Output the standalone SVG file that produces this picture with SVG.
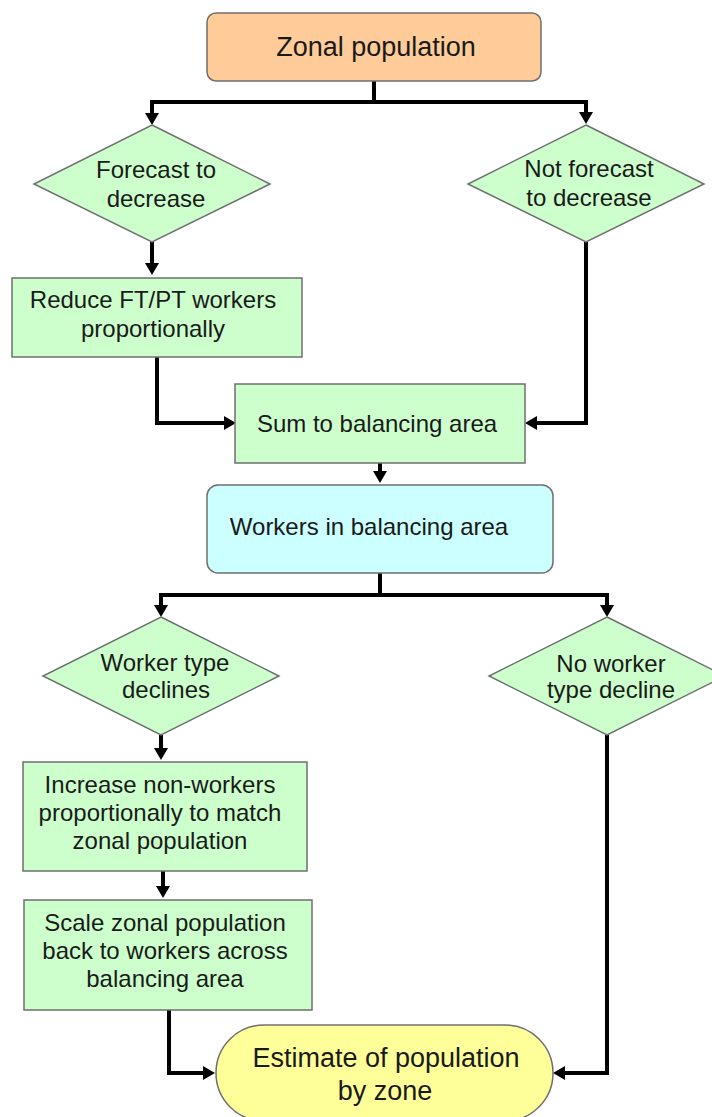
<svg xmlns="http://www.w3.org/2000/svg" width="712" height="1117" viewBox="0 0 712 1117">
  <defs>
    <marker id="arrow" markerUnits="userSpaceOnUse" markerWidth="12" markerHeight="14" refX="2" refY="7" orient="auto">
      <path d="M0,0 L12,7 L0,14 z" fill="#000"/>
    </marker>
    <style>
      .shape { stroke: #6f6f6f; stroke-width: 1.5; }
      .peach { fill: #ffcc99; }
      .green { fill: #ccffcc; }
      .cyan { fill: #ccffff; }
      .yellow { fill: #ffff99; }
      .label { font-family: "Liberation Sans", Arial, sans-serif; font-size: 24px; fill: #1a1a1a; text-anchor: middle; }
      .big { font-size: 27px; }
      .wire { fill: none; stroke: #000; stroke-width: 4; stroke-linejoin: miter; }
      .arr { marker-end: url(#arrow); }
    </style>
  </defs>
  <rect width="712" height="1117" fill="#fff"/>

  <!-- connectors -->
  <g id="connectors">
    <path class="wire" d="M374,81 V102"/>
    <path class="wire arr" d="M374,102 H152 V115"/>
    <path class="wire arr" d="M374,102 H586 V114"/>
    <path class="wire arr" d="M152,242 V265"/>
    <path class="wire arr" d="M157,357 V423 H226"/>
    <path class="wire arr" d="M586,242 V423 H535"/>
    <path class="wire arr" d="M380,463 V473"/>
    <path class="wire" d="M380,573 V595"/>
    <path class="wire arr" d="M380,595 H161 V607"/>
    <path class="wire arr" d="M380,595 H607 V607"/>
    <path class="wire arr" d="M161,735 V750"/>
    <path class="wire arr" d="M163,871 V888"/>
    <path class="wire arr" d="M169,1010 V1073 H205"/>
    <path class="wire arr" d="M607,735 V1073 H563"/>
  </g>

  <!-- start -->
  <g id="zonal-population">
    <rect class="shape peach" x="207" y="13" width="334" height="68" rx="9"/>
    <text class="label big" x="376" y="56">Zonal population</text>
  </g>

  <!-- first decision -->
  <g id="forecast-decrease">
    <polygon class="shape green" points="152,125 270,184 152,242 34,184"/>
    <text class="label" x="156" y="178">Forecast to</text>
    <text class="label" x="156" y="207">decrease</text>
  </g>
  <g id="not-forecast-decrease">
    <polygon class="shape green" points="586,125 704,184 586,242 468,184"/>
    <text class="label" x="589" y="177">Not forecast</text>
    <text class="label" x="589" y="206">to decrease</text>
  </g>

  <g id="reduce-workers">
    <rect class="shape green" x="12" y="278" width="290" height="79"/>
    <text class="label" x="153" y="308">Reduce FT/PT workers</text>
    <text class="label" x="153" y="337">proportionally</text>
  </g>

  <g id="sum-balancing">
    <rect class="shape green" x="235" y="384" width="290" height="79"/>
    <text class="label" x="377" y="432">Sum to balancing area</text>
  </g>

  <g id="workers-balancing">
    <rect class="shape cyan" x="207" y="485" width="346" height="88" rx="11"/>
    <text class="label" x="369" y="535">Workers in balancing area</text>
  </g>

  <!-- second decision -->
  <g id="worker-type-declines">
    <polygon class="shape green" points="161,617 279,676 161,735 43,676"/>
    <text class="label" x="165" y="671">Worker type</text>
    <text class="label" x="166" y="698">declines</text>
  </g>
  <g id="no-worker-type-decline">
    <polygon class="shape green" points="607,617 725,676 607,735 489,676"/>
    <text class="label" x="611" y="672">No worker</text>
    <text class="label" x="611" y="698">type decline</text>
  </g>

  <g id="increase-non-workers">
    <rect class="shape green" x="23" y="762" width="284" height="109"/>
    <text class="label" x="160" y="793">Increase non-workers</text>
    <text class="label" x="160" y="821">proportionally to match</text>
    <text class="label" x="160" y="849">zonal population</text>
  </g>

  <g id="scale-population">
    <rect class="shape green" x="24" y="900" width="288" height="110"/>
    <text class="label" x="165" y="931">Scale zonal population</text>
    <text class="label" x="165" y="959">back to workers across</text>
    <text class="label" x="165" y="987">balancing area</text>
  </g>

  <!-- end -->
  <g id="estimate-population">
    <rect class="shape yellow" x="216" y="1025" width="337" height="96" rx="48"/>
    <text class="label big" x="386" y="1067">Estimate of population</text>
    <text class="label big" x="385" y="1100">by zone</text>
  </g>
</svg>
